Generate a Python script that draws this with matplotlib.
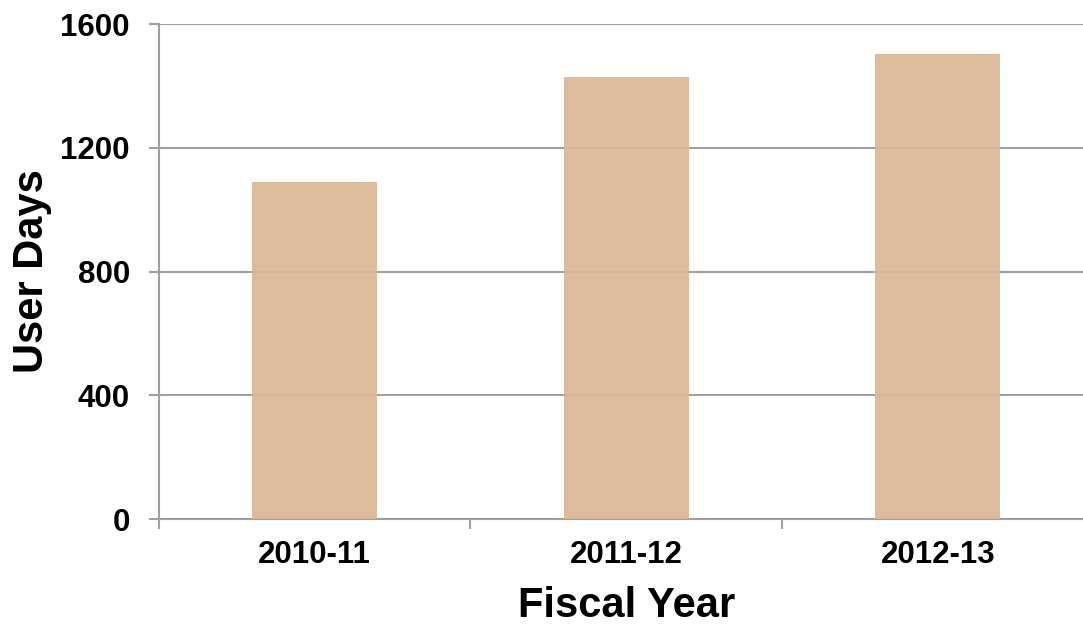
import matplotlib
matplotlib.use('Agg')
from matplotlib import pyplot as plt

years = ["2010-11", "2011-12", "2012-13"]
user_days = [1089, 1428, 1503]
yticks = [0, 400, 800, 1200, 1600]

plt.rcParams['font.family'] = ['Liberation Sans', 'DejaVu Sans']
plt.rcParams['font.weight'] = 'bold'

fig = plt.figure(figsize=(10.83, 6.26), dpi=100)
ax = fig.add_axes([0.1468, 0.1709, 0.8629, 0.7907])

grid_col = '#a0a0a0'
x = list(range(len(years)))
ax.bar(x, user_days, width=0.4, color='#dbb897', alpha=0.94, zorder=3)

ax.set_xlim(-0.5, len(years) - 0.5)
ax.set_ylim(0, 1600)
ax.set_yticks(yticks)
ax.set_yticklabels([str(t) for t in yticks])
ax.set_xticks(x)
ax.set_xticklabels(years)
ax.set_xticks([i - 0.5 for i in range(len(years) + 1)], minor=True)

ax.yaxis.grid(True, color=grid_col, linewidth=1.5, zorder=0)
ax.set_axisbelow(True)
for s in ['top', 'right']:
    ax.spines[s].set_visible(False)
for s in ['left', 'bottom']:
    ax.spines[s].set_color(grid_col)
    ax.spines[s].set_linewidth(1.5)

ax.tick_params(axis='y', length=7, width=1.5, color=grid_col, labelsize=22.5, pad=14)
ax.tick_params(axis='x', which='major', length=0, labelsize=22.5, pad=15)
ax.tick_params(axis='x', which='minor', length=7, width=1.5, color=grid_col)

ax.set_xlabel("Fiscal Year", fontsize=30, fontweight='bold')
ax.set_ylabel("User Days", fontsize=30, fontweight='bold')
ax.xaxis.set_label_coords(0.5, -0.136)
ax.yaxis.set_label_coords(-0.115, 0.5)

plt.savefig("out.png", dpi=100)
